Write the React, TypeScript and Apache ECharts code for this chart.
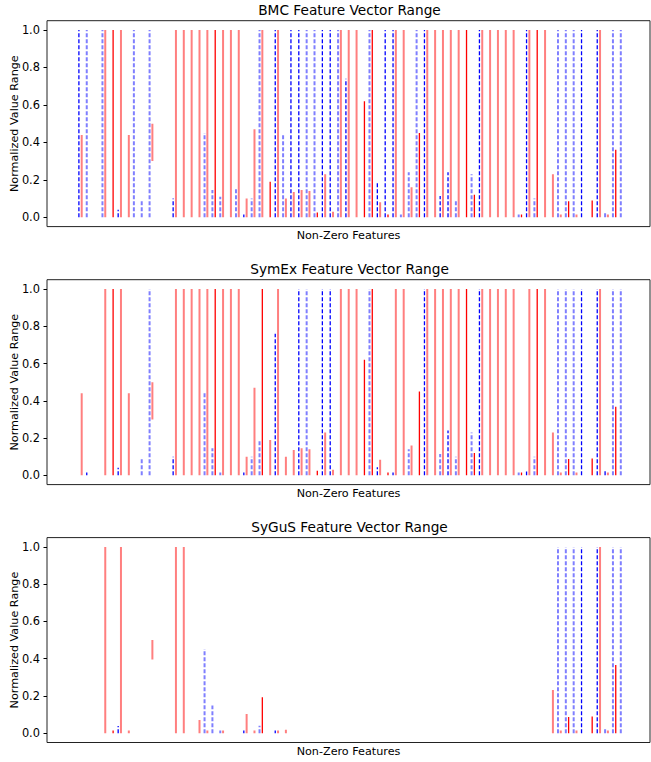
import React, { useEffect, useRef } from "react";
import * as echarts from "echarts";

// Each segment: [feature index, low value, high value, overlap count]
type Seg = [number, number, number, number];

const titles = ["BMC Feature Vector Range", "SymEx Feature Vector Range", "SyGuS Feature Vector Range"];
const xAxisName = "Non-Zero Features";
const yAxisName = "Normalized Value Range";
const yTicks = [0, 0.2, 0.4, 0.6, 0.8, 1.0];

const bmcBlue: Seg[] = [
  [0, 0, 1, 2], [1, 0, 1, 1], [3, 0, 1, 1], [5, 0, 0.04, 2], [7, 0, 1, 1], [8, 0, 0.09, 1],
  [9, 0, 1, 1], [12, 0, 0.1, 2], [16, 0, 0.45, 1], [17, 0, 0.145, 1], [18, 0, 0.11, 1],
  [20, 0, 0.16, 1], [21, 0, 0.015, 2], [22, 0, 0.1, 1], [23, 0, 1, 1], [25, 0, 1, 2],
  [26, 0, 0.44, 1], [27, 0, 1, 2], [28, 0, 1, 2], [29, 0, 1, 1], [30, 0, 1, 1], [31, 0, 1, 2],
  [32, 0, 1, 2], [33, 0, 1, 1], [34, 0, 0.74, 2], [37, 0, 1, 1], [38, 0, 0.19, 2], [39, 0, 1, 2],
  [40, 0, 1, 2], [41, 0, 0.015, 1], [42, 0, 0.24, 1], [43, 0, 1, 1], [44, 0, 1, 2], [46, 0, 0.114, 2],
  [47, 0, 0.24, 2], [48, 0, 0.095, 1], [50, 0, 0.23, 1], [51, 0, 1, 2], [56, 0, 0.015, 1],
  [57, 0, 1, 2], [58, 0, 0.1, 1], [61, 0, 1, 1], [62, 0, 1, 1], [63, 0, 1, 1], [64, 0, 1, 2],
  [66, 0, 1, 2], [67, 0, 0.03, 1], [68, 0, 1, 1], [69, 0, 1, 1],
];
const bmcRed: Seg[] = [
  [0, 0, 0.44, 1], [3, 0, 1, 1], [4, 0, 1, 2], [5, 0, 1, 1], [6, 0, 0.44, 1], [9, 0.3, 0.5, 1],
  [12, 0, 1, 1], [13, 0, 1, 1], [14, 0, 1, 1], [15, 0, 1, 1], [16, 0, 1, 1], [17, 0, 1, 2],
  [18, 0, 1, 1], [19, 0, 1, 1], [20, 0, 1, 1], [21, 0, 0.1, 1], [22, 0, 0.47, 1], [23, 0, 1, 1],
  [24, 0, 0.19, 2], [25, 0, 1, 1], [26, 0, 0.1, 1], [27, 0, 0.135, 1], [28, 0, 0.145, 1],
  [29, 0, 0.14, 1], [30, 0, 0.025, 2], [31, 0, 0.23, 1], [32, 0, 0.03, 1], [33, 0, 1, 1],
  [34, 0, 1, 1], [35, 0, 1, 1], [36, 0, 0.62, 2], [37, 0, 1, 2], [38, 0, 0.08, 1], [39, 0, 0.015, 2],
  [40, 0, 1, 1], [41, 0, 1, 1], [42, 0, 0.16, 1], [43, 0, 0.45, 2], [44, 0, 1, 1], [45, 0, 1, 1],
  [46, 0, 1, 1], [47, 0, 1, 1], [48, 0, 1, 1], [49, 0, 1, 2], [50, 0, 0.12, 2], [51, 0, 1, 1],
  [52, 0, 1, 1], [53, 0, 1, 1], [54, 0, 1, 1], [55, 0, 1, 1], [56, 0, 0.015, 2], [57, 0, 1, 1],
  [58, 0, 1, 2], [59, 0, 1, 1], [60, 0, 0.23, 1], [61, 0, 0.015, 1], [62, 0, 0.085, 2],
  [63, 0, 0.015, 1], [65, 0, 0.09, 2], [66, 0, 1, 1], [67, 0, 0.015, 1], [68, 0, 0.36, 2],
];

const symexBlue: Seg[] = [
  [1, 0, 0.015, 2], [5, 0, 0.04, 2], [8, 0, 0.097, 1], [9, 0, 1, 1], [12, 0, 0.1, 2],
  [16, 0, 0.45, 1], [17, 0, 0.145, 1], [18, 0, 0.015, 1], [21, 0, 0.015, 2], [22, 0, 0.1, 1],
  [23, 0, 0.19, 1], [25, 0, 0.76, 2], [28, 0, 1, 2], [29, 0, 1, 1], [31, 0, 1, 2], [32, 0, 1, 2],
  [37, 0, 1, 1], [38, 0, 0.043, 2], [40, 0, 0.015, 2], [42, 0, 0.14, 1], [44, 0, 1, 2],
  [46, 0, 0.114, 1], [47, 0, 0.24, 2], [48, 0, 0.1, 1], [50, 0, 0.23, 1], [51, 0, 1, 2],
  [56, 0, 0.015, 1], [57, 0, 0.02, 2], [58, 0, 0.1, 1], [61, 0, 1, 1], [62, 0, 1, 1], [63, 0, 1, 1],
  [64, 0, 1, 2], [66, 0, 1, 2], [67, 0, 0.03, 2], [68, 0, 1, 1], [69, 0, 1, 1],
];
const symexRed: Seg[] = [
  [0, 0, 0.44, 1], [3, 0, 1, 1], [4, 0, 1, 2], [5, 0, 1, 1], [6, 0, 0.44, 1], [9, 0.3, 0.5, 1],
  [12, 0, 1, 1], [13, 0, 1, 1], [14, 0, 1, 1], [15, 0, 1, 1], [16, 0, 1, 1], [17, 0, 1, 2],
  [18, 0, 1, 1], [19, 0, 1, 1], [20, 0, 1, 1], [21, 0, 0.1, 1], [22, 0, 0.47, 1], [23, 0, 1, 2],
  [24, 0, 0.19, 1], [25, 0, 1, 1], [26, 0, 0.1, 1], [27, 0, 0.136, 1], [28, 0, 0.145, 1],
  [29, 0, 0.14, 1], [30, 0, 0.025, 2], [31, 0, 0.23, 1], [32, 0, 0.03, 1], [33, 0, 1, 1],
  [34, 0, 1, 1], [35, 0, 1, 1], [36, 0, 0.62, 2], [37, 0, 1, 2], [38, 0, 0.084, 1], [39, 0, 0.015, 2],
  [40, 0, 1, 1], [41, 0, 1, 1], [42, 0, 0.16, 1], [43, 0, 0.45, 2], [44, 0, 1, 1], [45, 0, 1, 1],
  [46, 0, 1, 1], [47, 0, 1, 1], [48, 0, 1, 1], [49, 0, 1, 2], [50, 0, 0.12, 2], [51, 0, 1, 1],
  [52, 0, 1, 1], [53, 0, 1, 1], [54, 0, 1, 1], [55, 0, 1, 1], [56, 0, 0.015, 2], [57, 0, 1, 1],
  [58, 0, 1, 2], [59, 0, 1, 1], [60, 0, 0.23, 1], [61, 0, 0.015, 1], [62, 0, 0.088, 2],
  [63, 0, 0.015, 1], [65, 0, 0.09, 2], [66, 0, 1, 1], [67, 0, 0.015, 1], [68, 0, 0.368, 2],
];

const sygusBlue: Seg[] = [
  [5, 0, 0.039, 2], [16, 0, 0.452, 1], [17, 0, 0.148, 1], [18, 0, 0.015, 1], [21, 0, 0.015, 2],
  [23, 0, 0.04, 1], [25, 0, 0.015, 2], [61, 0, 1, 1], [62, 0, 1, 1], [63, 0, 1, 1], [64, 0, 1, 2],
  [66, 0, 1, 2], [67, 0, 0.03, 1], [68, 0, 1, 1], [69, 0, 1, 1],
];
const sygusRed: Seg[] = [
  [3, 0, 1, 1], [4, 0, 0.015, 2], [5, 0, 1, 1], [6, 0, 0.015, 1], [9, 0.396, 0.5, 1],
  [12, 0, 1, 1], [13, 0, 1, 1], [15, 0, 0.071, 1], [16, 0, 0.015, 1], [18, 0, 0.015, 1],
  [21, 0, 0.103, 1], [22, 0, 0.015, 1], [23, 0, 0.193, 2], [25, 0, 0.015, 1], [26, 0, 0.018, 1],
  [60, 0, 0.232, 1], [61, 0, 0.015, 1], [62, 0, 0.087, 2], [63, 0, 0.015, 1], [65, 0, 0.09, 2],
  [66, 0, 1, 1], [67, 0, 0.015, 1], [68, 0, 0.366, 2],
];

const panels = [
  { title: titles[0], blue: bmcBlue, red: bmcRed },
  { title: titles[1], blue: symexBlue, red: symexRed },
  { title: titles[2], blue: sygusBlue, red: sygusRed },
];

const FONT = "DejaVu Sans";

function segSeries(data: Seg[], idx: number, kind: "blue" | "red") {
  return {
    type: "custom",
    xAxisIndex: idx,
    yAxisIndex: idx,
    data,
    encode: { x: 0, y: [1, 2] },
    clip: true,
    silent: true,
    renderItem: (_params: any, api: any) => {
      const f = api.value(0);
      const lo = api.value(1);
      const hi = api.value(2);
      const n = api.value(3);
      const a = api.coord([f, lo]);
      const b = api.coord([f, hi]);
      const dx = kind === "blue" ? -1.4 : 1.4;
      const dark = n > 1;
      const stroke =
        kind === "blue"
          ? dark ? "rgba(0,0,255,1)" : "rgba(0,0,255,0.5)"
          : dark ? "rgba(255,0,0,1)" : "rgba(255,0,0,0.5)";
      return {
        type: "line",
        shape: { x1: a[0] + dx, y1: a[1], x2: b[0] + dx, y2: b[1] },
        style: {
          stroke,
          lineWidth: dark ? 1.3 : 2,
          lineDash: kind === "blue" ? [4, 2] : null,
        },
      };
    },
  };
}

export default function App() {
  const ref = useRef<HTMLDivElement>(null);
  useEffect(() => {
    if (!ref.current) return;
    const chart = echarts.init(ref.current, null, { renderer: "svg" });
    const tops = [20.7, 279.7, 537.6];
    const heights = [205.9, 204.9, 204.9];
    const grids = tops.map((t, i) => ({
      left: 47,
      top: t,
      width: 603,
      height: heights[i],
      show: true,
      borderColor: "#222",
      borderWidth: 1,
      backgroundColor: "transparent",
      containLabel: false,
      outerBoundsMode: "none",
    }));
    const xAxes = tops.map((_, i) => ({
      type: "value",
      gridIndex: i,
      min: -4.24,
      max: 72.54,
      axisLine: { show: false, onZero: false },
      axisTick: { show: false },
      axisLabel: { show: false },
      splitLine: { show: false },
      name: xAxisName,
      nameLocation: "middle",
      nameGap: 3,
      nameMoveOverlap: false,
      nameTextStyle: { fontFamily: FONT, fontSize: 11.2, color: "#000", verticalAlign: "top" },
    }));
    const yAxes = tops.map((_, i) => ({
      type: "value",
      gridIndex: i,
      min: -0.05,
      max: 1.05,
      axisLine: { show: false, onZero: false },
      axisTick: { show: true, length: 3.5, customValues: yTicks, lineStyle: { color: "#000", width: 1 } },
      axisLabel: {
        customValues: yTicks,
        formatter: (v: number) => v.toFixed(1),
        fontFamily: FONT,
        fontSize: 11.4,
        color: "#000",
        margin: 7,
      },
      splitLine: { show: false },
      name: yAxisName,
      nameLocation: "middle",
      nameRotate: 90,
      nameGap: 27,
      nameMoveOverlap: false,
      nameTextStyle: { fontFamily: FONT, fontSize: 11.2, color: "#000" },
    }));
    const series: any[] = [];
    panels.forEach((p, i) => {
      series.push(segSeries(p.blue, i, "blue"));
      series.push(segSeries(p.red, i, "red"));
    });
    chart.setOption({
      animation: false,
      backgroundColor: "#fff",
      title: panels.map((p, i) => ({
        text: p.title,
        left: 349.5,
        top: tops[i] - 18,
        padding: 0,
        textAlign: "center",
        textStyle: { fontFamily: FONT, fontSize: 13.7, fontWeight: "normal", color: "#000" },
      })),
      grid: grids,
      xAxis: xAxes,
      yAxis: yAxes,
      series,
    } as any);
    return () => chart.dispose();
  }, []);
  return (
    <div
      ref={ref}
      style={{ position: "fixed", left: 0, top: 0, width: 651, height: 762 }}
    />
  );
}
